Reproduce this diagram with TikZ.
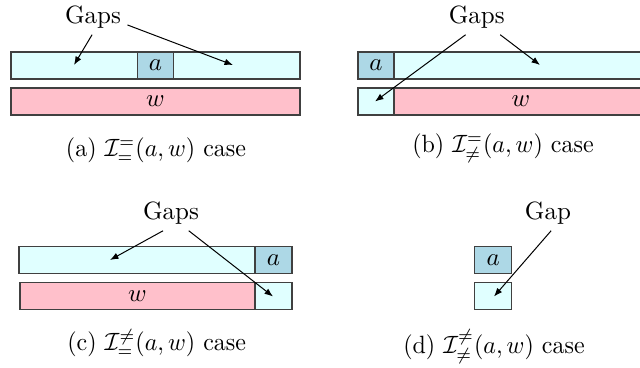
\documentclass[tikz,border=0pt]{standalone}
\usetikzlibrary{arrows.meta}
\definecolor{gapc}{HTML}{E0FFFF}
\definecolor{ac}{HTML}{ADD8E6}
\definecolor{wc}{HTML}{FFC0CB}
\tikzset{
  cell/.style={draw=black!75, line width=0.5pt, inner sep=0pt, outer sep=0pt, minimum height={27*0.4pt}},
  gapcell/.style={cell, fill=gapc},
  acell/.style={cell, fill=ac},
  wcell/.style={cell, fill=wc},
  lbl/.style={inner sep=2.4pt},
  ptr/.style={-{Latex[length=3.4pt,width=2.6pt]}, line width=0.4pt, black},
  captxt/.style={inner sep=0pt, xscale=0.96}
}
\begin{document}
\begin{tikzpicture}[x=0.4pt,y=-0.4pt]
\useasboundingbox (0,0) rectangle (640,367);
% ---------- (a)
\node[gapcell, minimum width={289*0.4pt}] (aTop) at (155.5,65.5) {};
\node[acell, minimum width={36*0.4pt}] (aA) at (155.5,65.5) {$a$};
\node[wcell, minimum width={289*0.4pt}] (aW) at (155.5,101.5) {$w$};
\node[lbl] (gA) at (93,17) {Gaps};
\coordinate (tA1) at (74,65);
\coordinate (tA2) at (233,65);
\draw[ptr] (gA.-93) -- (tA1);
\draw[ptr] (gA.-13) -- (tA2);
\node[captxt] (cA) at (156,150) {(a) $\mathcal{I}^{=}_{=}(a,w)$ case};
% ---------- (b)
\node[gapcell, minimum width={289*0.4pt}] (bTop) at (502.5,65.5) {};
\node[acell, minimum width={36*0.4pt}, anchor=west] (bA) at (358,65.5) {$a$};
\node[wcell, minimum width={289*0.4pt}] (bW) at (502.5,101.5) {};
\node[gapcell, minimum width={36*0.4pt}, anchor=west] (bG) at (358,101.5) {};
\node (bWl) at (521,101.5) {$w$};
\node[lbl] (gB) at (476.7,17) {Gaps};
\coordinate (tB1) at (375,101.5);
\coordinate (tB2) at (540,65);
\draw[ptr] (gB.-122) -- (tB1);
\draw[ptr] (gB.-37) -- (tB2);
\node[captxt] (cB) at (503,148) {(b) $\mathcal{I}^{=}_{\neq}(a,w)$ case};
% ---------- (c)
\node[gapcell, minimum width={273*0.4pt}, anchor=west] (cTop) at (19,260) {};
\node[acell, minimum width={37*0.4pt}, anchor=east] (cA) at (292,260) {$a$};
\node[wcell, minimum width={235*0.4pt}, anchor=west] (cW) at (20,296.3) {$w$};
\node[gapcell, minimum width={37*0.4pt}, anchor=west] (cG) at (255,296.3) {};
\node[lbl] (gC) at (171,213) {Gaps};
\coordinate (tC1) at (110,260);
\coordinate (tC2) at (273,296.5);
\draw[ptr] (gC.-114) -- (tC1);
\draw[ptr] (gC.-45) -- (tC2);
\node[captxt] (cC) at (156.7,343) {(c) $\mathcal{I}^{\neq}_{=}(a,w)$ case};
% ---------- (d)
\node[acell, minimum width={37*0.4pt}] (dA) at (493.3,260) {$a$};
\node[gapcell, minimum width={37*0.4pt}] (dG) at (493.3,296.3) {};
\node[lbl] (gD) at (548,213) {Gap};
\coordinate (tD) at (494,296.5);
\draw[ptr] (gD.-80) -- (tD);
\node[captxt] (cD) at (494,346.5) {(d) $\mathcal{I}^{\neq}_{\neq}(a,w)$ case};
\end{tikzpicture}
\end{document}
